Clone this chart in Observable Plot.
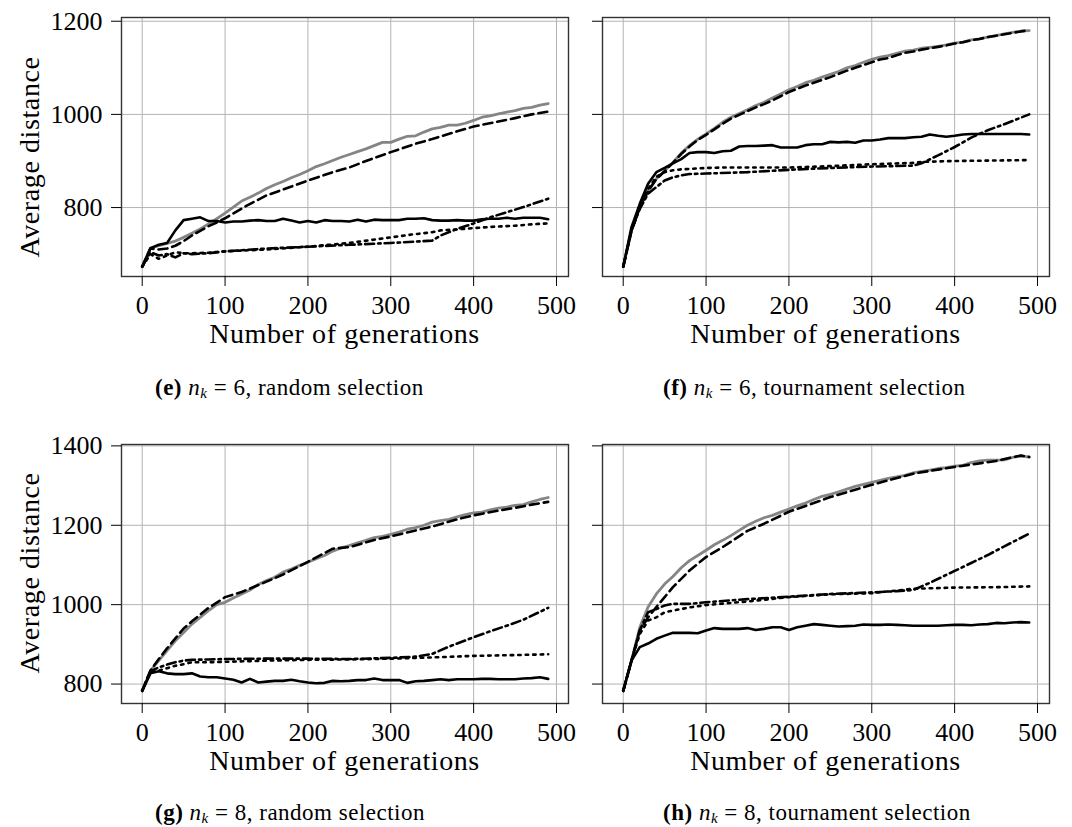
<!DOCTYPE html>
<html><head><meta charset="utf-8">
<script src="https://cdn.jsdelivr.net/npm/d3@7"></script>
<script src="https://cdn.jsdelivr.net/npm/@observablehq/plot@0.6"></script>
<style>
body{margin:0;background:#fff;}
#wrap{position:relative;width:1072px;height:827px;background:#fff;font-family:'Liberation Serif',serif;color:#000;overflow:hidden;}
#wrap svg text{font-family:'Liberation Serif',serif !important;}
.panel{position:absolute;}
.xt{position:absolute;font-size:28px;letter-spacing:0.6px;line-height:1;white-space:nowrap;transform:translateX(-50%);}
.yt{position:absolute;font-size:28px;letter-spacing:0.6px;line-height:1;white-space:nowrap;transform:translate(-50%,-50%) rotate(-90deg);}
.cap{position:absolute;font-size:23px;letter-spacing:0.5px;line-height:1;padding-bottom:3px;white-space:nowrap;}
.cap sub{font-size:15px;vertical-align:-3px;line-height:0;}
</style>
</head><body><div id="wrap"></div>
<script>
// ---------- data ----------
const gens = [0,10,20,30,40,50,60,70,80,90,100,110,120,130,140,150,160,170,180,190,200,210,220,230,240,250,260,270,280,290,300,310,320,330,340,350,360,370,380,390,400,410,420,430,440,450,460,470,480,490];
const xTicks = [0,100,200,300,400,500];
const yTicksTop = [800,1000,1200];
const yTicksBottom = [800,1000,1200,1400];

// (e) n_k = 6, random selection
const e_gray = [673,713,718,723,728,736,745,754,765,776,788,801,814,822,831,841,849,856,864,871,879,888,894,901,908,914,920,926,933,940,940,947,953,954,962,969,972,977,977,981,987,994,997,1001,1005,1008,1013,1015,1020,1023];
const e_dash_x = [0,10,20,30,40,50,60,70,80,90,100,125,150,175,200,230,250,270,300,330,350,375,400,425,450,470,490];
const e_dash = [673,712,710,712,718,728,740,750,760,768,777,803,826,842,858,876,886,900,919,937,947,961,974,983,992,1000,1006];
const e_solid = [673,713,720,724,751,773,776,779,771,771,768,770,770,772,773,771,771,776,772,768,771,768,773,771,771,770,774,770,774,773,773,773,776,776,777,773,772,772,773,772,772,775,776,776,778,776,778,778,778,775];
const e_dot_x = [0,10,20,30,40,50,60,80,100,125,150,175,200,225,250,275,300,325,350,360,380,400,425,450,470,490];
const e_dot = [673,700,690,697,704,702,702,703,706,708,710,713,716,720,724,730,736,742,747,751,753,756,759,761,764,766];
const e_dd_x = [0,10,20,30,40,50,60,80,100,150,200,250,300,330,350,360,380,400,420,440,460,490];
const e_dd = [673,704,697,700,693,702,700,702,706,712,716,720,724,727,729,740,754,766,779,790,801,819];

// (f) n_k = 6, tournament selection
const f_gray = [673,751,801,836,862,879,897,917,933,947,958,970,983,994,1002,1010,1019,1026,1035,1044,1053,1060,1068,1073,1080,1086,1092,1100,1105,1112,1118,1123,1126,1131,1136,1138,1142,1144,1146,1149,1153,1155,1160,1162,1166,1169,1173,1176,1179,1180];
const f_dash = [673,750,800,835,861,878,896,915,931,945,956,968,980,991,999,1007,1015,1022,1030,1039,1048,1055,1062,1068,1074,1080,1087,1094,1100,1106,1112,1118,1121,1127,1132,1135,1139,1142,1145,1148,1152,1155,1159,1162,1166,1169,1172,1175,1178,1181];
const f_solid = [673,758,808,851,876,885,895,904,917,919,919,917,921,922,931,932,932,933,934,929,929,929,934,936,936,941,940,941,939,944,944,946,949,949,949,951,952,957,954,952,954,957,958,958,958,958,958,958,958,957];
const f_dot_x = [0,10,20,30,40,50,60,70,80,100,120,150,200,250,300,350,360,400,450,490];
const f_dot = [673,751,801,840,866,876,880,882,883,885,886,886,886,889,893,896,898,900,901,902];
const f_dd_x = [0,10,20,30,40,50,60,70,80,100,150,200,250,300,350,360,380,400,420,440,460,490];
const f_dd = [673,751,797,830,844,858,865,869,872,873,876,881,885,888,890,895,912,930,950,966,979,1000];

// (g) n_k = 8, random selection
const g_gray = [783,834,859,884,909,930,951,968,985,1000,1006,1017,1027,1037,1051,1061,1069,1082,1090,1099,1107,1116,1124,1135,1143,1149,1156,1162,1169,1172,1177,1183,1190,1194,1200,1208,1212,1215,1221,1227,1231,1233,1239,1243,1246,1250,1252,1259,1265,1270];
const g_dash_x = [0,10,20,30,40,50,60,70,80,90,100,120,150,170,200,230,250,280,300,330,350,380,400,430,450,470,490];
const g_dash = [783,834,863,890,915,940,958,975,992,1005,1019,1032,1058,1076,1108,1141,1145,1163,1172,1187,1197,1215,1225,1237,1244,1252,1259];
const g_solid = [783,827,832,827,825,825,827,819,817,817,814,811,804,813,804,806,808,808,811,807,804,802,803,808,807,808,810,810,814,810,810,810,803,807,808,810,812,810,812,812,812,813,813,812,812,812,814,815,817,813];
const g_dot_x = [0,10,20,30,40,50,60,80,100,150,200,250,300,350,400,450,490];
const g_dot = [783,832,834,840,846,850,855,855,856,859,861,862,864,867,871,873,875];
const g_dd_x = [0,10,20,30,40,50,60,80,100,150,200,250,300,330,350,370,400,420,440,460,490];
const g_dd = [783,832,842,849,855,859,861,862,863,864,864,863,866,869,876,894,918,933,947,962,992];

// (h) n_k = 8, tournament selection
const h_gray = [783,859,943,994,1027,1052,1071,1093,1111,1124,1137,1151,1162,1174,1187,1200,1210,1219,1225,1233,1241,1249,1256,1265,1273,1278,1284,1291,1298,1303,1308,1313,1318,1322,1326,1332,1336,1339,1343,1345,1349,1351,1358,1362,1364,1364,1365,1371,1374,1372];
const h_dash_x = [0,10,20,30,40,50,60,70,80,90,100,120,150,170,200,230,250,300,350,400,450,480,490];
const h_dash = [783,859,935,968,994,1019,1044,1065,1086,1103,1120,1145,1186,1204,1234,1256,1271,1302,1330,1347,1362,1376,1372];
const h_solid = [783,859,893,902,914,922,929,929,929,928,935,941,939,939,939,941,936,939,943,943,936,943,947,951,949,947,945,946,947,950,949,949,950,949,948,947,947,947,947,948,949,949,948,950,951,954,953,955,956,955];
const h_dot_x = [0,10,20,30,40,50,60,80,100,150,200,250,300,350,400,450,490];
const h_dot = [783,859,926,960,968,981,985,993,999,1008,1019,1026,1029,1040,1043,1044,1046];
const h_dd_x = [0,10,20,30,40,50,60,80,100,150,200,250,300,330,350,370,400,420,440,460,490];
const h_dd = [783,859,935,981,989,998,1002,1002,1006,1014,1020,1027,1031,1034,1037,1055,1085,1105,1125,1147,1179];

// ---------- layout & styles ----------
const lineStyles = {
  gray:  {stroke:"#858585", strokeWidth:2.8},
  dash:  {stroke:"#000", strokeWidth:2.6, strokeDasharray:"9,5"},
  dot:   {stroke:"#000", strokeWidth:2.6, strokeDasharray:"2.5,5"},
  dd:    {stroke:"#000", strokeWidth:2.6, strokeDasharray:"9,4,2.5,4"},
  solid: {stroke:"#000", strokeWidth:2.6}
};
const rows = (xs, ys) => xs.map((x, i) => ({x, y: ys[i]}));

const panels = [
  {left:0, top:0, width:580, ml:121, mr:12, mt:17, mb:54, ydom:[652,1208], yt:yTicksTop, labels:true,
   s:{gray:rows(gens,e_gray), dash:rows(e_dash_x,e_dash), dot:rows(e_dot_x,e_dot), dd:rows(e_dd_x,e_dd), solid:rows(gens,e_solid)}},
  {left:580, top:0, width:492, ml:22, mr:23, mt:17, mb:54, ydom:[652,1208], yt:yTicksTop, labels:false,
   s:{gray:rows(gens,f_gray), dash:rows(gens,f_dash), dot:rows(f_dot_x,f_dot), dd:rows(f_dd_x,f_dd), solid:rows(gens,f_solid)}},
  {left:0, top:430, width:580, ml:121, mr:12, mt:14, mb:57, ydom:[751,1403.5], yt:yTicksBottom, labels:true,
   s:{gray:rows(gens,g_gray), dash:rows(g_dash_x,g_dash), dot:rows(g_dot_x,g_dot), dd:rows(g_dd_x,g_dd), solid:rows(gens,g_solid)}},
  {left:580, top:430, width:492, ml:22, mr:23, mt:14, mb:57, ydom:[751,1403.5], yt:yTicksBottom, labels:false,
   s:{gray:rows(gens,h_gray), dash:rows(h_dash_x,h_dash), dot:rows(h_dot_x,h_dot), dd:rows(h_dd_x,h_dd), solid:rows(gens,h_solid)}}
];

const wrap = document.getElementById("wrap");
for (const p of panels) {
  const order = ["gray","dash","dot","dd","solid"];
  const chart = Plot.plot({
    width: p.width, height: 330,
    marginLeft: p.ml, marginRight: p.mr, marginTop: p.mt, marginBottom: p.mb,
    x: {domain: [-25, 514.5]},
    y: {domain: p.ydom},
    style: {fontFamily: "'Liberation Serif', serif", fontSize: "26px", background: "transparent", overflow: "visible", color: "#000"},
    marks: [
      Plot.gridX({ticks: xTicks, stroke: "#b3b3b3", strokeOpacity: 1, strokeWidth: 1}),
      Plot.gridY({ticks: p.yt, stroke: "#b3b3b3", strokeOpacity: 1, strokeWidth: 1}),
      ...order.map(k => Plot.line(p.s[k], {x: "x", y: "y", ...lineStyles[k], strokeLinejoin: "round"})),
      Plot.frame({stroke: "#333", strokeWidth: 1.4}),
      Plot.axisX({ticks: xTicks, tickSize: 10, tickPadding: 9, label: null, fontSize: 26, tickFormat: d => String(d)}),
      Plot.axisY({ticks: p.yt, tickSize: 10, tickPadding: 9, label: null, fontSize: 26, tickFormat: p.labels ? (d => String(d)) : (() => "")})
    ]
  });
  const holder = document.createElement("div");
  holder.className = "panel";
  holder.style.left = p.left + "px";
  holder.style.top = p.top + "px";
  holder.appendChild(chart);
  wrap.appendChild(holder);
}

function addText(cls, html, left, top) {
  const d = document.createElement("div");
  d.className = cls;
  d.innerHTML = html;
  d.style.left = left + "px";
  d.style.top = top + "px";
  wrap.appendChild(d);
}
addText("xt", "Number of generations", 344.5, 320);
addText("xt", "Number of generations", 825.5, 320);
addText("xt", "Number of generations", 344.5, 747);
addText("xt", "Number of generations", 825.5, 747);
addText("yt", "Average distance", 30, 157);
addText("yt", "Average distance", 30, 573);
addText("cap", "<b>(e)</b> <i>n</i><sub><i>k</i></sub> = 6, random selection", 155, 376);
addText("cap", "<b>(f)</b> <i>n</i><sub><i>k</i></sub> = 6, tournament selection", 663, 376);
addText("cap", "<b>(g)</b> <i>n</i><sub><i>k</i></sub> = 8, random selection", 155, 801);
addText("cap", "<b>(h)</b> <i>n</i><sub><i>k</i></sub> = 8, tournament selection", 663, 801);
</script></body></html>
